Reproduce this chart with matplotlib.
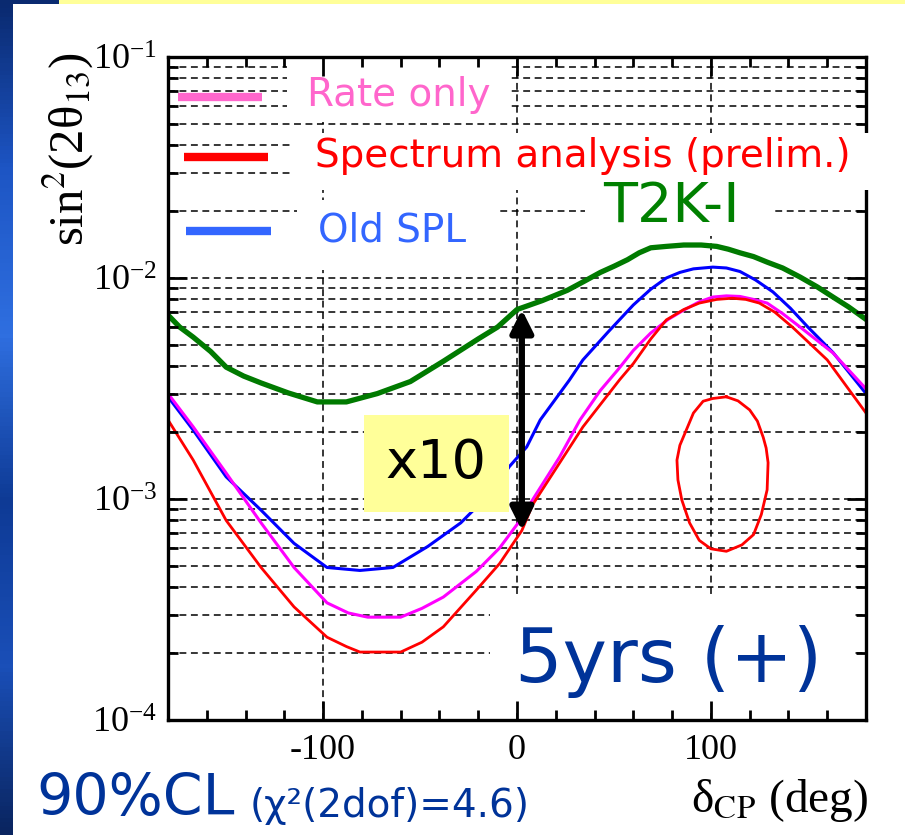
"""sin^2(2θ13) sensitivity versus δCP — 5 yrs (+), 90% CL contours."""

import matplotlib
matplotlib.use("Agg")
import matplotlib.pyplot as plt
import numpy as np
from matplotlib.colors import LinearSegmentedColormap
from matplotlib.patches import Rectangle
from matplotlib.ticker import FixedLocator, LogLocator, MultipleLocator, NullFormatter

plt.rcParams.update({
    "font.family": "serif",
    "font.serif": ["Liberation Serif", "DejaVu Serif"],
    "mathtext.fontset": "stix",
    "axes.unicode_minus": False,
})

# ── curves: δCP (deg) vs sin²(2θ13) ────────────────────────────────────
T2K_DCP = [-180, -174, -167, -158, -150, -141, -132, -118, -103, -88, -72,
           -55, -38, -20, -10, 0, 13, 26, 35, 43, 50, 57, 63, 69, 77, 86, 95,
           103, 109, 115, 122, 129, 137, 146, 155, 163, 171, 180]
T2K_S = [6.8e-3, 6.0e-3, 5.4e-3, 4.65e-3, 3.95e-3, 3.6e-3, 3.35e-3, 3.02e-3,
         2.75e-3, 2.75e-3, 3.0e-3, 3.4e-3, 4.2e-3, 5.3e-3, 6.0e-3, 7.2e-3,
         7.9e-3, 8.8e-3, 9.7e-3, 1.06e-2, 1.13e-2, 1.21e-2, 1.30e-2, 1.37e-2,
         1.39e-2, 1.41e-2, 1.41e-2, 1.39e-2, 1.35e-2, 1.30e-2, 1.25e-2,
         1.18e-2, 1.11e-2, 1.01e-2, 9.1e-3, 8.2e-3, 7.4e-3, 6.5e-3]

SPL_DCP = [-180, -167, -150, -132, -115, -98, -81, -64, -46, -29, -12, -4,
           5, 12, 27, 34, 47, 60, 69, 77, 84, 91, 101, 108, 115, 123, 132, 141,
           150, 163, 180]
SPL_S = [2.9e-3, 2.05e-3, 1.26e-3, 8.9e-4, 6.3e-4, 4.9e-4, 4.75e-4, 4.9e-4,
         6.1e-4, 7.8e-4, 1.1e-3, 1.4e-3, 1.72e-3, 2.28e-3, 3.45e-3, 4.26e-3,
         5.7e-3, 7.55e-3, 8.9e-3, 1.0e-2, 1.06e-2, 1.10e-2, 1.12e-2, 1.11e-2,
         1.07e-2, 9.8e-3, 8.65e-3, 7.3e-3, 6.0e-3, 4.6e-3, 3.0e-3]

RATE_DCP = [-180, -167, -150, -132, -115, -98, -87, -77, -60, -49, -38, -21,
            -9, 2.5, 8, 22, 32.5, 43, 52, 60, 69, 78, 86, 94, 101, 108, 115,
            122, 129, 137, 146, 163, 180]
RATE_S = [3.0e-3, 2.12e-3, 1.31e-3, 7.8e-4, 4.9e-4, 3.39e-4, 3.05e-4, 2.92e-4,
          2.92e-4, 3.2e-4, 3.6e-4, 4.7e-4, 6.0e-4, 8.2e-4, 9.9e-4, 1.55e-3,
          2.28e-3, 3.1e-3, 3.84e-3, 4.7e-3, 5.64e-3, 6.5e-3, 7.16e-3, 7.8e-3,
          8.2e-3, 8.3e-3, 8.25e-3, 8.0e-3, 7.7e-3, 6.9e-3, 6.0e-3, 4.58e-3,
          3.15e-3]

SPEC_DCP = [-180, -167, -150, -132, -115, -98, -88, -81, -60, -49, -38, -21,
            -9, 2.5, 8, 13, 34, 53, 60, 69, 77, 86, 94, 103, 111, 118, 125,
            133, 142, 160, 180]
SPEC_S = [2.28e-3, 1.5e-3, 8.0e-4, 4.9e-4, 3.25e-4, 2.37e-4, 2.15e-4, 2.03e-4,
          2.03e-4, 2.25e-4, 2.64e-4, 3.87e-4, 5.1e-4, 7.2e-4, 9.4e-4, 1.1e-3,
          2.12e-3, 3.47e-3, 4.1e-3, 5.3e-3, 6.46e-3, 7.2e-3, 7.7e-3, 8.0e-3,
          8.1e-3, 8.0e-3, 7.7e-3, 7.0e-3, 6.0e-3, 4.26e-3, 2.45e-3]

# closed island of the spectrum analysis near δCP ≈ +105°
ISLAND_DCP = [108, 101, 96, 91, 88, 84, 82.5, 83, 85, 89, 94, 100, 108, 116,
              122, 126, 129, 129.5, 128.5, 127, 124, 120, 114, 108]
ISLAND_S = [2.9e-3, 2.85e-3, 2.77e-3, 2.45e-3, 2.12e-3, 1.75e-3, 1.5e-3,
            1.22e-3, 9.9e-4, 7.8e-4, 6.5e-4, 5.95e-4, 5.8e-4, 6.2e-4, 6.9e-4,
            8.5e-4, 1.1e-3, 1.46e-3, 1.7e-3, 1.9e-3, 2.25e-3, 2.53e-3, 2.78e-3,
            2.9e-3]

# "x10" arrow: T2K-I vs spectrum analysis at δCP ≈ 0
GAIN_DCP = 2.5
GAIN_TOP = 7.2e-3
GAIN_FACTOR = 10

LEGEND = [("Rate only", "#FF66CC"),
          ("Spectrum analysis (prelim.)", "#FF0000"),
          ("Old SPL", "#3366FF")]

# ── figure / axes geometry (pixels) ────────────────────────────────────
W, H = 905, 835
AX_L, AX_R, AX_T, AX_B = 168, 866, 57, 720

fig = plt.figure(figsize=(W / 100, H / 100), dpi=100)
fig.patch.set_facecolor("white")
ax = fig.add_axes([AX_L / W, 1 - AX_B / H, (AX_R - AX_L) / W, (AX_B - AX_T) / H])


def afrac(x, y):
    """pixel -> axes fraction"""
    return (x - AX_L) / (AX_R - AX_L), (AX_B - y) / (AX_B - AX_T)


def ffrac(x, y):
    """pixel -> figure fraction"""
    return x / W, 1 - y / H


def abox(x0, y0, x1, y1, color="white", z=1.0, clip=True):
    fx0, fyb = afrac(x0, y1)
    fx1, fyt = afrac(x1, y0)
    ax.add_patch(Rectangle((fx0, fyb), fx1 - fx0, fyt - fyb, transform=ax.transAxes,
                           facecolor=color, edgecolor="none", zorder=z, clip_on=clip))


# slide decoration: blue strip on the left, yellow rule on top
strip = fig.add_axes([0, 0, 12 / W, 1])
cmap = LinearSegmentedColormap.from_list(
    "slide", ["#0a2a70", "#1d55c4", "#2f6fe0", "#0e3a95", "#1a4fb8", "#0a2560"])
strip.imshow(np.linspace(0, 1, 200)[:, None], aspect="auto", cmap=cmap)
strip.axis("off")
fig.add_artist(Rectangle(ffrac(0, 4), 59 / W, 4 / H, transform=fig.transFigure,
                         facecolor="#0a2a70", edgecolor="none"))
fig.add_artist(Rectangle(ffrac(59, 4), 1, 4 / H, transform=fig.transFigure,
                         facecolor="#FFFF99", edgecolor="none"))

# ── axes setup ────────────────────────────────────────────────────────
ax.set_yscale("log")
ax.set_xlim(-180, 180)
ax.set_ylim(1e-4, 1e-1)
ax.xaxis.set_major_locator(FixedLocator([-100, 0, 100]))
ax.xaxis.set_minor_locator(MultipleLocator(20))
ax.yaxis.set_major_locator(LogLocator(base=10, numticks=10))
ax.yaxis.set_minor_locator(LogLocator(base=10, subs=np.arange(2, 10), numticks=50))
ax.yaxis.set_minor_formatter(NullFormatter())
ax.tick_params(which="both", direction="in", top=True, right=True, width=2.0,
               labelsize=26)
ax.tick_params(which="major", length=14)
ax.tick_params(which="minor", length=7)
ax.tick_params(axis="x", pad=10)
ax.tick_params(axis="y", pad=8)
for sp in ax.spines.values():
    sp.set_linewidth(2.4)
ax.set_axisbelow(False)

# dashed grid, under the label boxes
grid_kw = dict(color="black", lw=1.1, ls=(0, (4.5, 3)), zorder=0.5)
ylocs = [v for v in np.concatenate([ax.yaxis.get_majorticklocs(),
                                    ax.yaxis.get_minorticklocs()])
         if 1e-4 < v < 1e-1]
ax.hlines(ylocs, -180, 180, **grid_kw)
ax.vlines(ax.xaxis.get_majorticklocs(), 1e-4, 1e-1, **grid_kw)

# ── curves ────────────────────────────────────────────────────────────
ax.plot(T2K_DCP, T2K_S, color="#007A00", lw=3.8, zorder=2)
ax.plot(SPL_DCP, SPL_S, color="#0000FF", lw=2.2, zorder=2)
ax.plot(RATE_DCP, RATE_S, color="#FF00FF", lw=2.2, zorder=2)
ax.plot(SPEC_DCP, SPEC_S, color="#FF0000", lw=2.0, zorder=2)
ax.plot(ISLAND_DCP, ISLAND_S, color="#FF0000", lw=2.0, zorder=2)

# ── legend: coloured bars + labels on white boxes ─────────────────────
abox(287, 58, 508, 122)
abox(292, 133, 871, 190, z=3, clip=False)
abox(297, 200, 500, 270)
abox(585, 190, 773, 236)
abox(490, 598, 855, 709)

bar_px = [(178, 262, 97), (184, 268, 157), (186, 271, 231)]
text_px = [(307, 95), (315, 156), (318, 231)]
for (label, color), (x0, x1, y), (tx, ty) in zip(LEGEND, bar_px, text_px):
    (bx0, by), (bx1, _) = afrac(x0, y), afrac(x1, y)
    ax.plot([bx0, bx1], [by, by], color=color, lw=6, transform=ax.transAxes,
            solid_capstyle="butt", zorder=4)
    ax.text(*afrac(tx, ty), label, transform=ax.transAxes, family="DejaVu Sans",
            fontsize=28, color=color, ha="left", va="center", zorder=4)

ax.text(*afrac(603, 207), "T2K-I", transform=ax.transAxes, family="DejaVu Sans",
        fontsize=40, color="#008000", ha="left", va="center", zorder=4)

# ── x10 arrow and box ─────────────────────────────────────────────────
abox(364, 415, 509, 512, color="#FFFF99", z=3)
ax.text(*afrac(436, 463), f"x{GAIN_FACTOR}", transform=ax.transAxes,
        family="DejaVu Sans", fontsize=39, color="black", ha="center",
        va="center", zorder=4)
ax.annotate("", xy=(GAIN_DCP, GAIN_TOP / GAIN_FACTOR), xytext=(GAIN_DCP, GAIN_TOP),
            arrowprops=dict(arrowstyle="<|-|>", color="black", lw=4.5,
                            mutation_scale=34, shrinkA=0, shrinkB=0),
            zorder=5)

ax.text(*afrac(515, 662), "5yrs (+)", transform=ax.transAxes,
        family="DejaVu Sans", fontsize=54, color="#003399", ha="left",
        va="center", zorder=4)

# ── axis titles and CL note ───────────────────────────────────────────
fig.text(*ffrac(68, 52), "sin$^2$(2θ$_{13}$)", rotation=90, fontsize=35,
         ha="center", va="top")
fig.text(*ffrac(868, 800), "δ$_{\\rm CP}$ (deg)", fontsize=34,
         ha="right", va="center")
fig.text(*ffrac(36, 799), "90%CL", family="DejaVu Sans", fontsize=41,
         color="#003399", ha="left", va="center")
fig.text(*ffrac(250, 806), "(χ²(2dof)=4.6)", family="DejaVu Sans", fontsize=28,
         color="#003399", ha="left", va="center")

fig.savefig("out.png", dpi=100)
